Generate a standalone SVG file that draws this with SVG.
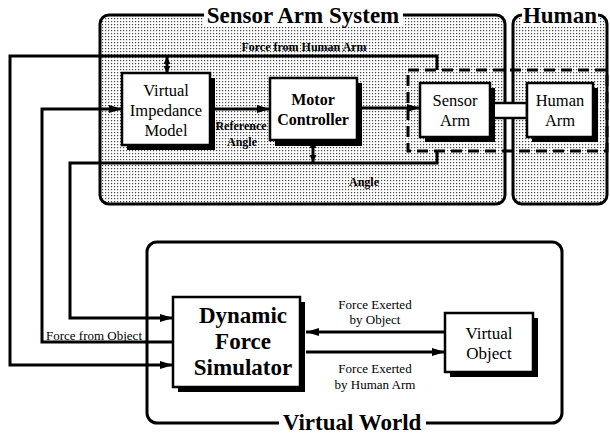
<svg xmlns="http://www.w3.org/2000/svg" width="610" height="437" viewBox="0 0 610 437">
<style>
.cont{fill:url(#dots);stroke:#000;stroke-width:3}
.box{fill:#fff;stroke:#000;stroke-width:2.5}
.shadow{fill:#000}
.ln{fill:none;stroke:#000;stroke-width:3}
.title{font-family:"Liberation Serif",serif;font-weight:bold;font-size:23px;fill:#000}
.node{font-family:"Liberation Serif",serif;font-size:16.5px;fill:#000;text-anchor:middle}
.nodeb{font-family:"Liberation Serif",serif;font-weight:bold;font-size:16px;fill:#000;text-anchor:middle}
.big{font-family:"Liberation Serif",serif;font-weight:bold;font-size:23px;fill:#000;text-anchor:middle}
.lbl{font-family:"Liberation Serif",serif;font-size:13px;fill:#000}
.lblb{font-family:"Liberation Serif",serif;font-weight:bold;font-size:12px;fill:#000}
</style>
<defs>
<pattern id="dots" width="3" height="3" patternUnits="userSpaceOnUse">
<rect width="3" height="3" fill="#fff"/>
<rect width="1.2" height="1.2" fill="#444"/>
</pattern>
<marker id="arr" markerUnits="userSpaceOnUse" markerWidth="14" markerHeight="10" refX="13" refY="5" orient="auto-start-reverse">
<path d="M0,1 L13,5 L0,9 Z" fill="#000"/>
</marker>
<marker id="arrs" markerUnits="userSpaceOnUse" markerWidth="8" markerHeight="8" refX="7" refY="4" orient="auto-start-reverse">
<path d="M0,0.5 L7,4 L0,7.5 Z" fill="#000"/>
</marker>
</defs>
<rect width="610" height="437" fill="#fff"/>

<g id="sensor-arm-system">
<rect class="cont" x="100" y="15" width="405" height="189" rx="9"/>
<rect x="204" y="4" width="199" height="22" fill="#fff"/>
<text class="title" x="303" y="23" text-anchor="middle">Sensor Arm System</text>
</g>
<g id="human">
<rect class="cont" x="513" y="15" width="94" height="189" rx="9"/>
<rect x="522" y="4" width="76" height="22" fill="#fff"/>
<text class="title" x="560" y="23" text-anchor="middle">Human</text>
</g>
<g id="virtual-world">
<rect x="147" y="242" width="415" height="181" rx="10" fill="#fff" stroke="#000" stroke-width="3"/>
<rect x="279" y="413" width="147" height="22" fill="#fff"/>
<text class="title" x="352" y="430" text-anchor="middle">Virtual World</text>
</g>

<g id="coupling">
<rect x="408" y="70" width="199" height="81" fill="none" stroke="#000" stroke-width="3" stroke-dasharray="11,6"/>
</g>

<g id="connectors">
<polyline class="ln" points="437,70 437,56 10,56 10,365 173,365" marker-end="url(#arr)"/>
<line class="ln" x1="167" y1="57" x2="167" y2="73" marker-start="url(#arrs)" marker-end="url(#arrs)"/>
<polyline class="ln" points="173,342 42,342 42,109 122,109" marker-end="url(#arr)"/>
<polyline class="ln" points="437,150 437,163 70,163 70,318 173,318" marker-end="url(#arr)"/>
<line class="ln" x1="313" y1="141" x2="313" y2="162" marker-start="url(#arrs)" marker-end="url(#arrs)"/>
<line class="ln" x1="211" y1="109" x2="270" y2="109" marker-end="url(#arr)"/>
<line class="ln" x1="358" y1="108" x2="420" y2="108" marker-end="url(#arr)"/>
<line class="ln" x1="445" y1="332" x2="306" y2="332" marker-end="url(#arr)"/>
<line class="ln" x1="306" y1="352" x2="445" y2="352" marker-end="url(#arr)"/>
<text class="lblb" x="304" y="51" text-anchor="middle">Force from Human Arm</text>
<text class="lblb" x="241" y="130" text-anchor="middle">Reference</text>
<text class="lblb" x="242" y="146" text-anchor="middle">Angle</text>
<text class="lblb" x="364" y="186" text-anchor="middle">Angle</text>
<text class="lbl" x="94" y="340" text-anchor="middle">Force from Object</text>
<text class="lbl" x="375" y="309" text-anchor="middle">Force Exerted</text>
<text class="lbl" x="375" y="324" text-anchor="middle">by Object</text>
<text class="lbl" x="375" y="373" text-anchor="middle">Force Exerted</text>
<text class="lbl" x="375" y="389" text-anchor="middle">by Human Arm</text>
</g>

<g id="virtual-impedance-model">
<rect class="shadow" x="127" y="78" width="88" height="72"/>
<rect class="box" x="122" y="73" width="88" height="72"/>
<text class="node" x="166" y="96">Virtual</text>
<text class="node" x="166" y="116">Impedance</text>
<text class="node" x="166" y="136">Model</text>
</g>
<g id="motor-controller">
<rect class="shadow" x="275" y="83" width="87" height="63"/>
<rect class="box" x="270" y="78" width="87" height="62"/>
<text class="nodeb" x="313" y="105">Motor</text>
<text class="nodeb" x="313" y="125">Controller</text>
</g>
<g id="arm-link">
<rect x="489" y="103" width="38" height="15" fill="#fff" stroke="#000" stroke-width="2.5"/>
</g>
<g id="sensor-arm">
<rect class="shadow" x="425" y="88" width="70" height="54"/>
<rect class="box" x="420" y="83" width="70" height="54"/>
<text class="node" x="455" y="106">Sensor</text>
<text class="node" x="455" y="126">Arm</text>
</g>
<g id="human-arm">
<rect class="shadow" x="532" y="88" width="66" height="54"/>
<rect class="box" x="527" y="83" width="66" height="54"/>
<text class="node" x="560" y="106">Human</text>
<text class="node" x="560" y="126">Arm</text>
</g>
<g id="dynamic-force-simulator">
<rect class="shadow" x="178" y="302" width="127" height="90"/>
<rect class="box" x="173" y="297" width="127" height="90"/>
<text class="big" x="243" y="323">Dynamic</text>
<text class="big" x="243" y="349">Force</text>
<text class="big" x="243" y="375">Simulator</text>
</g>
<g id="virtual-object">
<rect class="shadow" x="450" y="318" width="88" height="59"/>
<rect class="box" x="445" y="313" width="88" height="59"/>
<text class="node" x="489" y="339" style="font-size:17px">Virtual</text>
<text class="node" x="489" y="359" style="font-size:17px">Object</text>
</g>
</svg>
